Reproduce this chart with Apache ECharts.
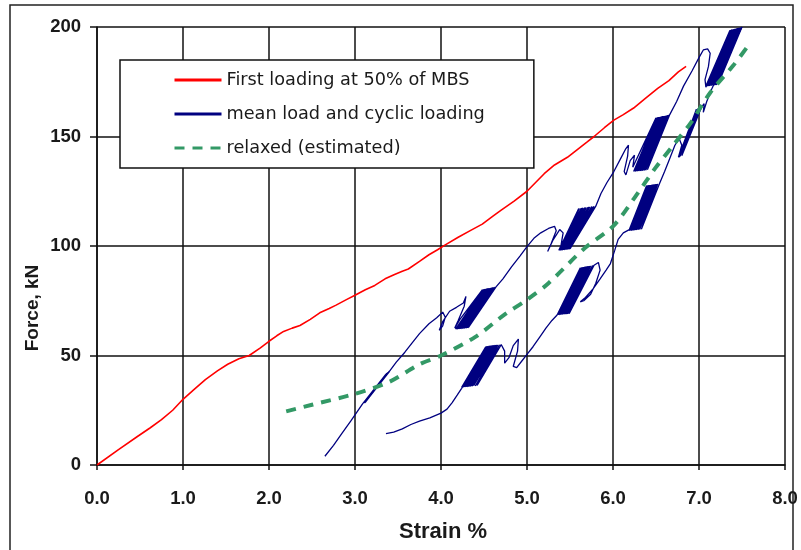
<!DOCTYPE html>
<html>
<head>
<meta charset="utf-8">
<script src="https://cdn.jsdelivr.net/npm/echarts@6/dist/echarts.min.js"></script>
<style>
html,body{margin:0;padding:0;background:#fff;}
#chart{width:801px;height:550px;}
</style>
</head>
<body>
<div id="chart"></div>
<script>
// ---- data ----
const xTicks = [0, 1, 2, 3, 4, 5, 6, 7, 8];
const yTicks = [0, 50, 100, 150, 200];
const seriesNames = ['First loading at 50% of MBS', 'mean load and cyclic loading', 'relaxed (estimated)'];

// [strain %, force kN]
const firstLoading = [
  [0,0],[0.25,7],[0.47,13],[0.62,17],[0.75,20.7],[0.88,25],[1.0,30],[1.13,34.5],[1.26,39],[1.4,43],[1.52,46],[1.65,48.5],[1.77,50],
  [1.9,53.5],[2.0,56.5],[2.09,59],[2.17,61],[2.27,62.5],[2.36,63.7],[2.48,66.5],[2.59,69.5],[2.7,71.5],[2.78,73],[2.9,75.5],[3.0,77.5],
  [3.12,80],[3.23,82],[3.35,85],[3.46,87],[3.55,88.5],[3.62,89.5],[3.75,93],[3.86,96],[3.96,98.3],[4.05,100.5],[4.2,104],[4.34,107],
  [4.48,110],[4.6,113.5],[4.7,116.4],[4.85,120.5],[5.0,125],[5.1,129],[5.2,133],[5.32,137],[5.47,140.5],[5.6,144.5],[5.7,147.5],
  [5.78,150],[5.9,154],[6.01,157.5],[6.12,160],[6.24,163],[6.38,167.5],[6.52,172],[6.65,175.5],[6.76,179.5],[6.85,182]
];

const cyclicUpper = [
  [2.65,4],[2.75,9],[2.85,14.5],[2.95,20],[3.02,24],[3.09,28],
  [3.36,41.5],[3.10,28.5],[3.37,41.8],[3.11,28.3],[3.38,42],[3.11,28.8],[3.38,42.2],[3.12,28.6],[3.39,42.4],[3.12,29],[3.40,42.6],[3.13,29.2],[3.40,42.8],
  [3.48,47],[3.58,51.5],[3.66,55.5],[3.75,60],[3.86,64.5],[3.95,67.2],[4.02,69.8],
  [4.05,67.5],[4.02,63.5],[3.98,61.5],[4.02,65.5],[4.10,70.2],[4.18,72],[4.26,74],[4.29,77],[4.27,72.5],[4.20,66],[4.16,62.5],[4.22,66.5],
  [4.48,80.0],[4.17,62.0],[4.49,80.1],[4.18,62.1],[4.50,80.2],[4.19,62.0],[4.51,80.3],[4.20,62.2],[4.52,80.3],[4.21,62.1],[4.53,80.4],[4.22,62.3],
  [4.54,80.5],[4.23,62.2],[4.55,80.6],[4.24,62.4],[4.56,80.7],[4.25,62.3],[4.57,80.7],[4.26,62.5],[4.58,80.8],[4.27,62.4],[4.59,80.9],[4.28,62.6],
  [4.60,81.0],[4.29,62.5],[4.61,81.0],[4.30,62.7],[4.62,81.1],[4.31,62.6],[4.63,81.2],[4.32,62.8],[4.64,81.3],
  [4.72,85],[4.82,90.5],[4.92,95.5],[5.0,99.7],[5.08,103.5],[5.16,106],[5.25,108],[5.32,109],[5.34,107],[5.28,101],[5.24,97.5],[5.30,102.5],[5.38,107.5],[5.42,106],[5.39,99],
  [5.60,117.0],[5.37,98.0],[5.61,117.1],[5.38,98.1],[5.63,117.2],[5.39,98.0],[5.64,117.3],[5.40,98.2],[5.65,117.4],[5.41,98.1],[5.67,117.5],[5.42,98.3],
  [5.68,117.5],[5.43,98.2],[5.69,117.6],[5.44,98.4],[5.71,117.7],[5.45,98.3],[5.72,117.8],[5.46,98.5],[5.73,117.8],[5.47,98.4],[5.75,117.9],[5.48,98.6],
  [5.76,118.0],[5.49,98.5],[5.78,118.1],[5.50,98.7],[5.80,118.2],
  [5.86,124],[5.93,129],[6.01,134],[6.09,140],[6.15,144.5],[6.18,146],[6.17,141],[6.13,134],[6.15,132.5],[6.20,139],[6.25,141.5],[6.23,136],
  [6.50,158.5],[6.24,134.0],[6.51,158.6],[6.25,134.1],[6.52,158.7],[6.26,134.0],[6.53,158.8],[6.27,134.2],[6.54,158.8],[6.28,134.1],[6.55,158.9],[6.29,134.3],
  [6.56,159.0],[6.30,134.2],[6.57,159.1],[6.31,134.4],[6.58,159.2],[6.32,134.3],[6.59,159.3],[6.33,134.5],[6.60,159.3],[6.34,134.4],[6.61,159.4],[6.35,134.6],
  [6.62,159.5],[6.36,134.5],[6.63,159.6],[6.37,134.7],[6.64,159.7],[6.38,134.6],[6.65,159.8],[6.40,134.8],[6.66,160.0],
  [6.74,166],[6.82,173],[6.92,180],[7.00,186],[7.05,189.5],[7.10,190],[7.13,188],[7.11,182],[7.07,176],[7.08,172.5],
  [7.36,198.5],[7.08,173.0],[7.37,198.6],[7.09,173.1],[7.38,198.7],[7.10,173.0],[7.39,198.8],[7.11,173.2],[7.40,198.9],[7.12,173.1],[7.41,199.0],[7.13,173.3],
  [7.42,199.1],[7.14,173.2],[7.43,199.2],[7.15,173.4],[7.44,199.3],[7.16,173.3],[7.45,199.4],[7.17,173.5],[7.46,199.5],[7.18,173.4],[7.47,199.6],[7.19,173.6],
  [7.48,199.7],[7.20,173.5],[7.49,199.8],[7.22,173.7],[7.50,200]
];

const cyclicLower = [
  [3.36,14.3],[3.45,15],[3.55,16.5],[3.65,18.5],[3.75,20],[3.87,21.5],[4.0,23.7],[4.07,25.5],[4.13,28.5],[4.19,32],[4.24,35],
  [4.52,54.0],[4.24,35.5],[4.53,54.1],[4.25,35.6],[4.54,54.2],[4.26,35.5],[4.55,54.2],[4.27,35.7],[4.56,54.3],[4.28,35.6],[4.57,54.4],[4.29,35.8],
  [4.58,54.4],[4.30,35.7],[4.59,54.5],[4.31,35.9],[4.60,54.5],[4.32,35.8],[4.61,54.6],[4.33,36.0],[4.62,54.6],[4.34,35.9],[4.63,54.7],[4.35,36.1],
  [4.64,54.7],[4.36,36.0],[4.65,54.8],[4.38,36.2],[4.66,54.8],[4.40,36.1],[4.68,54.9],[4.42,36.3],[4.70,55.0],
  [4.74,52],[4.74,46.5],[4.79,49],[4.84,54.5],[4.90,57.5],[4.89,52],[4.84,45],[4.88,44.5],[4.94,47.5],[5.0,50.5],[5.07,54],[5.15,58.5],[5.22,62.5],[5.29,66],[5.35,68.5],
  [5.62,90.0],[5.35,68.5],[5.63,90.1],[5.36,68.6],[5.64,90.2],[5.37,68.5],[5.65,90.3],[5.38,68.7],[5.66,90.3],[5.39,68.6],[5.67,90.4],[5.40,68.8],
  [5.68,90.5],[5.41,68.7],[5.69,90.5],[5.42,68.9],[5.70,90.6],[5.43,68.8],[5.71,90.7],[5.44,69.0],[5.72,90.7],[5.45,68.9],[5.73,90.8],[5.46,69.1],
  [5.74,90.9],[5.47,69.0],[5.76,91.0],[5.48,69.2],[5.77,91.1],[5.49,69.1],[5.78,91.2],
  [5.83,92.5],[5.85,89],[5.80,83],[5.74,78],[5.66,75],[5.62,74.5],[5.68,76.5],[5.76,80],[5.85,85],[5.92,89],[5.97,92],[6.02,98],[6.06,103],[6.12,106],[6.19,107.5],
  [6.39,127.5],[6.19,107.0],[6.40,127.6],[6.20,107.1],[6.41,127.6],[6.21,107.0],[6.42,127.7],[6.22,107.2],[6.43,127.8],[6.23,107.1],[6.44,127.8],[6.24,107.3],
  [6.45,127.9],[6.25,107.2],[6.46,128.0],[6.26,107.4],[6.47,128.0],[6.27,107.3],[6.48,128.1],[6.28,107.5],[6.49,128.1],[6.29,107.4],[6.50,128.2],[6.30,107.6],
  [6.51,128.2],[6.31,107.5],[6.52,128.3],[6.33,107.7],[6.54,128.4],
  [6.60,134],[6.66,140],[6.72,146],[6.77,149],[6.80,146],[6.76,140.5],
  [6.97,162.5],[6.77,140.5],[6.99,162.8],[6.78,141],[7.01,163],[6.80,141.2],[7.03,163.5],
  [7.06,165],[7.05,161],[7.09,166],[7.14,171],[7.20,176],[7.28,183],[7.36,189.5],[7.44,195.5],[7.50,200]
];

const relaxed = [
  [2.2,24.5],[2.5,27.5],[3.0,32.5],[3.4,38],[3.75,46],[4.0,50],[4.4,58.5],[4.75,69],[5.0,75.5],[5.25,83],
  [5.67,99],[6.0,109],[6.25,122],[6.5,136],[6.7,146],[6.9,156],[7.13,170],[7.4,182.5],[7.6,193]
];

// ---- chart ----
const chart = echarts.init(document.getElementById('chart'), null, {renderer: 'canvas'});
const gridColor = '#111';
const tickFont = {fontFamily: 'Liberation Sans', fontWeight: 'bold', fontSize: 18.5, color: '#1a1a1a'};

chart.setOption({
  animation: false,
  backgroundColor: '#fff',
  grid: {left: 97, right: 16, top: 27, bottom: 85},
  xAxis: {
    type: 'value', min: xTicks[0], max: xTicks[xTicks.length - 1], interval: 1,
    axisLine: {show: true, onZero: false, lineStyle: {color: gridColor, width: 1.5}},
    axisTick: {show: true, length: 5, lineStyle: {color: gridColor, width: 1.5}},
    axisLabel: Object.assign({margin: 24, formatter: v => v.toFixed(1)}, tickFont),
    splitLine: {show: true, lineStyle: {color: gridColor, width: 1.5}}
  },
  yAxis: {
    type: 'value', min: yTicks[0], max: yTicks[yTicks.length - 1], interval: 50,
    axisLine: {show: true, onZero: false, lineStyle: {color: gridColor, width: 1.5}},
    axisTick: {show: true, length: 7, lineStyle: {color: gridColor, width: 1.5}},
    axisLabel: Object.assign({margin: 16}, tickFont),
    splitLine: {show: true, lineStyle: {color: gridColor, width: 1.5}}
  },
  legend: {
    orient: 'vertical', left: 120, top: 60,
    padding: [10, 49, 10, 53], itemGap: 14, itemWidth: 47, itemHeight: 14,
    backgroundColor: '#fff', borderColor: '#111', borderWidth: 1.5, borderRadius: 0,
    itemStyle: {opacity: 0},
    lineStyle: {width: 3},
    textStyle: {fontFamily: 'DejaVu Sans', fontSize: 17.7, lineHeight: 20, color: '#1a1a1a'},
    data: seriesNames
  },
  graphic: [
    {type: 'rect', shape: {x: 10, y: 5, width: 783, height: 560}, style: {fill: 'none', stroke: '#222', lineWidth: 1.5}, silent: true, z: 100},
    {type: 'text', x: 33, y: 308, rotation: Math.PI / 2,
     style: {text: 'Force, kN', font: 'bold 19px "Liberation Sans"', fill: '#1a1a1a', align: 'center', verticalAlign: 'middle'}},
    {type: 'text', x: 443, y: 532,
     style: {text: 'Strain %', font: 'bold 22px "Liberation Sans"', fill: '#1a1a1a', align: 'center', verticalAlign: 'middle'}}
  ],
  series: [
    {name: seriesNames[0], type: 'line', data: firstLoading, symbol: 'none', lineStyle: {color: '#ff0000', width: 1.6}, itemStyle: {color: '#ff0000'}, z: 3},
    {name: seriesNames[1], type: 'line', data: cyclicUpper, symbol: 'none', lineStyle: {color: '#000080', width: 1.3}, itemStyle: {color: '#000080'}, z: 3},
    {name: seriesNames[1], type: 'line', data: cyclicLower, symbol: 'none', lineStyle: {color: '#000080', width: 1.3}, itemStyle: {color: '#000080'}, z: 3},
    {name: seriesNames[2], type: 'line', data: relaxed, symbol: 'none', smooth: 0.3, lineStyle: {color: '#339966', width: 4, type: [10, 8]}, itemStyle: {color: '#339966'}, z: 4}
  ]
});
</script>
</body>
</html>
